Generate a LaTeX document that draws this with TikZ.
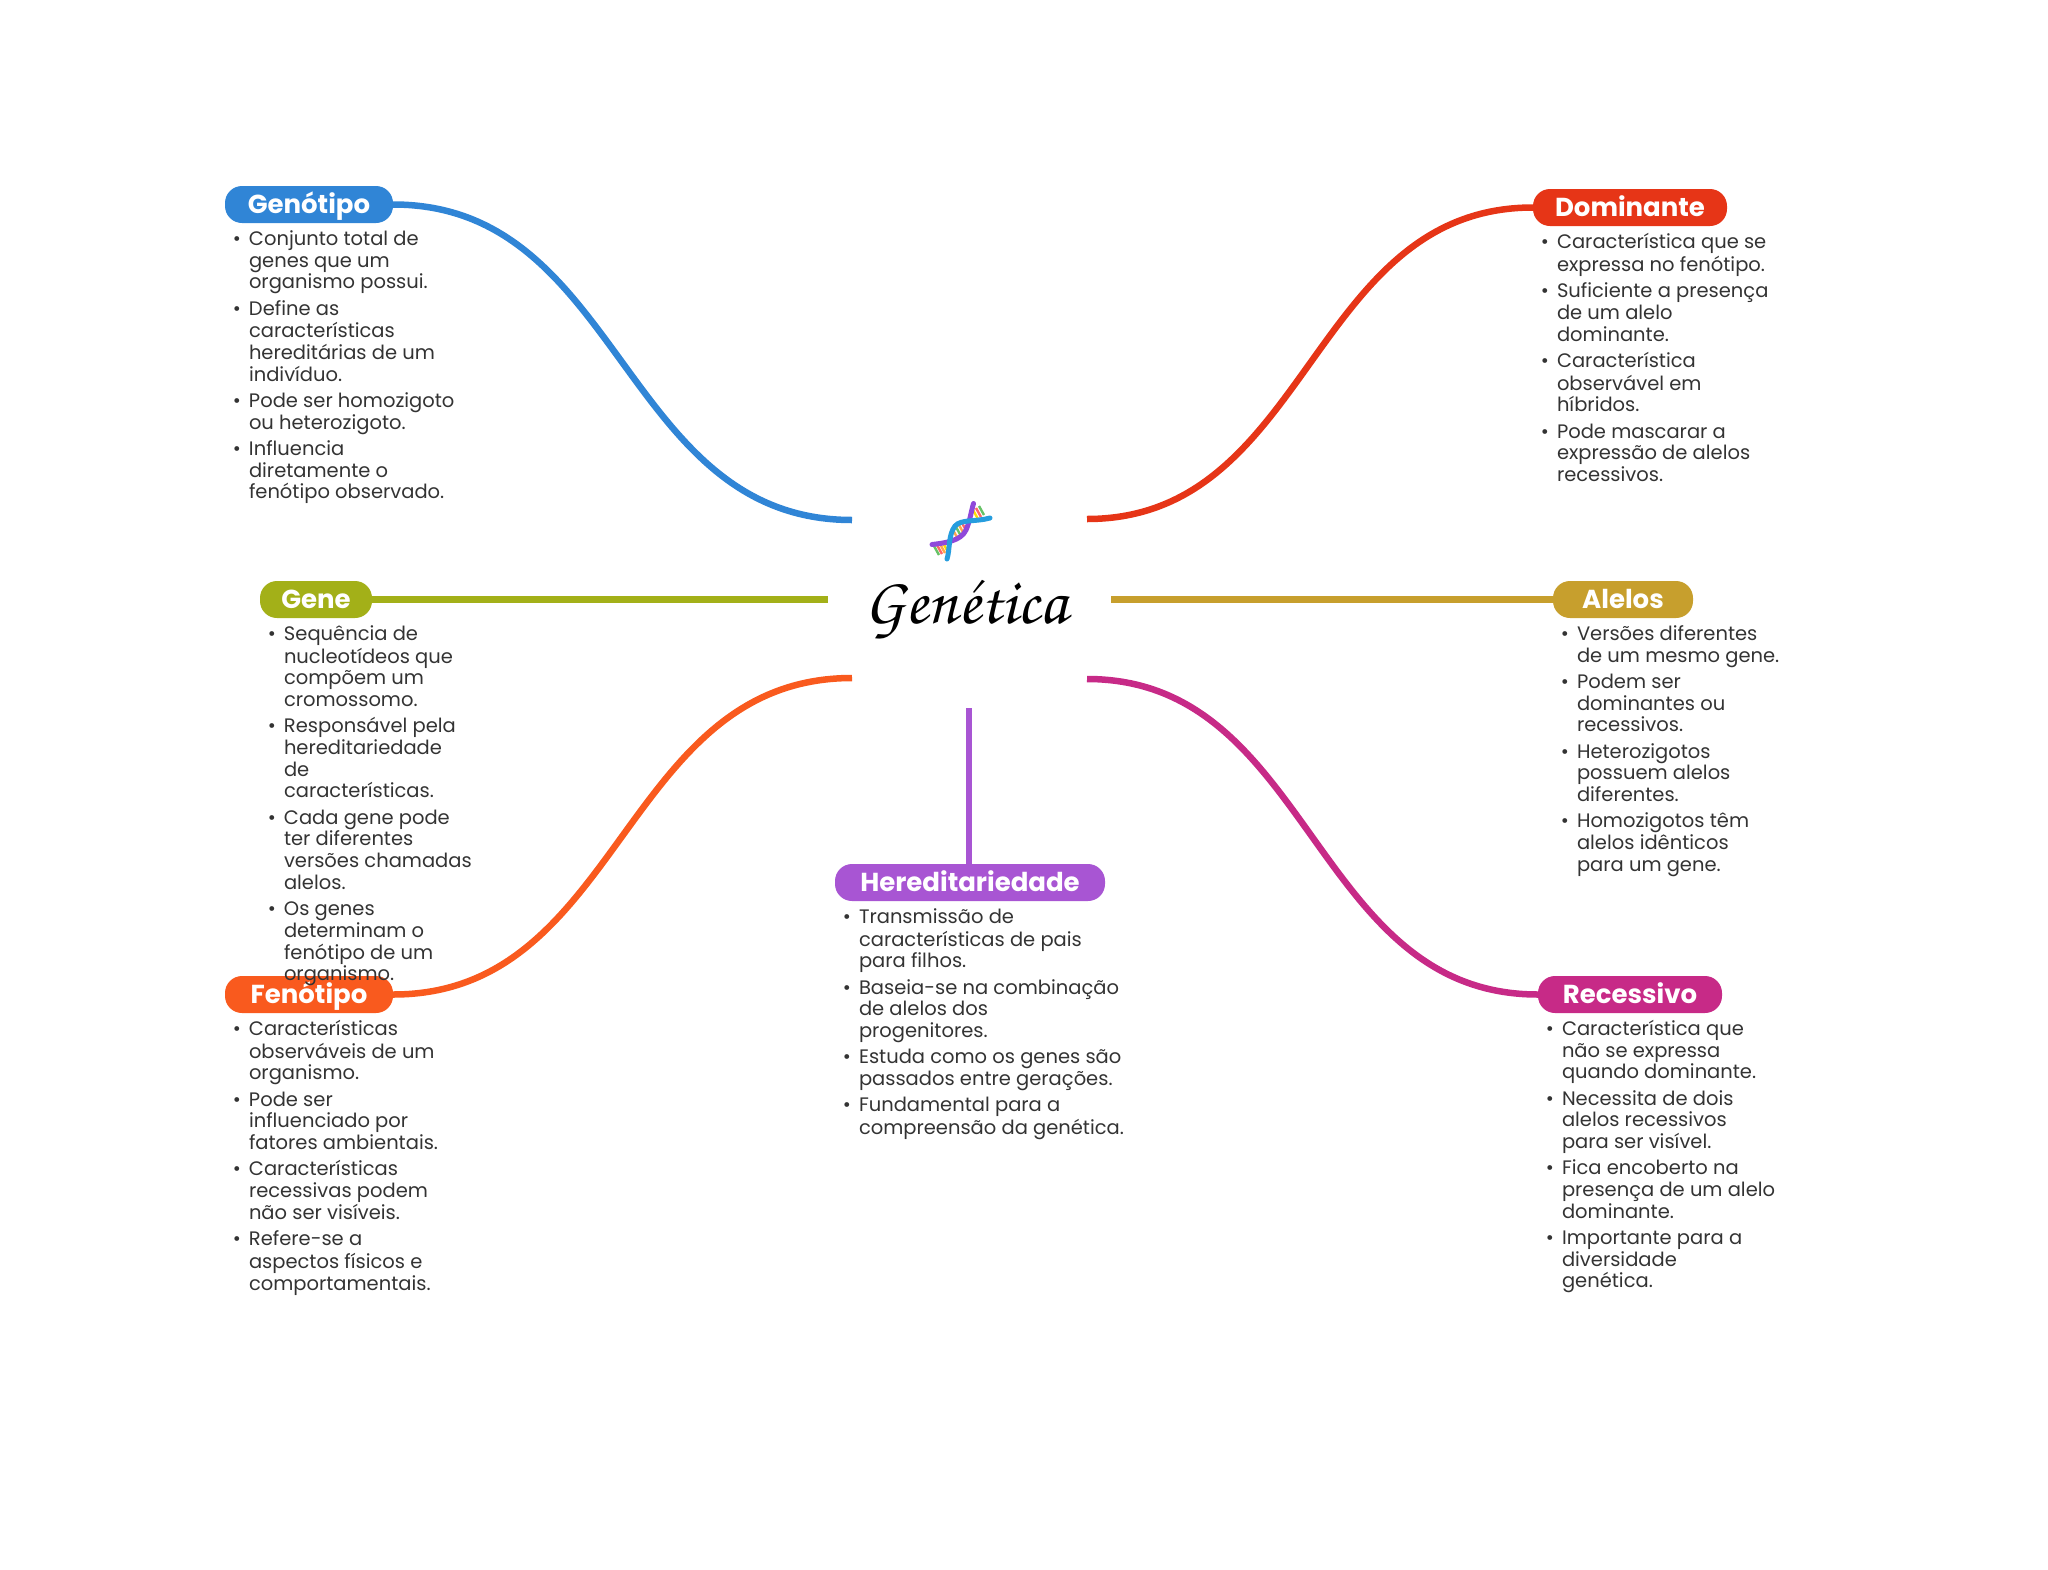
\documentclass[tikz,border=0pt]{standalone}
\usepackage{fontspec}
\setmainfont{Poppins}
\usetikzlibrary{positioning}
\definecolor{genotipoCol}{HTML}{3085D6}
\definecolor{dominanteCol}{HTML}{E63517}
\definecolor{geneCol}{HTML}{A3B018}
\definecolor{alelosCol}{HTML}{C79F2D}
\definecolor{fenotipoCol}{HTML}{F95A1E}
\definecolor{recessivoCol}{HTML}{C72A87}
\definecolor{hereditCol}{HTML}{A855D3}
\definecolor{bodyCol}{HTML}{333333}
\tikzset{pill/.style={rounded corners=17pt,minimum height=37pt,inner sep=0pt,text=white,
                      text height=21pt,text depth=4pt,
                      font=\fontsize{26}{26}\selectfont\bfseries}}
\tikzset{bodytext/.style={inner sep=0pt,align=left,text=bodyCol,
                          font=\fontsize{19.5}{21.7}\selectfont}}
\tikzset{link/.style={draw,line width=6.5pt}}
\newcommand{\bul}{\strut\llap{\textbullet\hspace{8pt}}}
\newcommand{\gap}{\\[4.6pt]}
\begin{document}
\begin{tikzpicture}[x=1pt,y=-1pt]
      \useasboundingbox (0,0) rectangle (2048,1569);

      % centre
      \node [inner sep=0pt,anchor=base,font=\fontsize{66}{66}\usefont{T1}{pzc}{mb}{it}] (genetica) at (966,623) {Genética};
      \coordinate (genotipoEnd) at (852,520);
      \coordinate (dominanteEnd) at (1087,519);
      \coordinate (geneEnd) at (828,599.5);
      \coordinate (alelosEnd) at (1111,599.5);
      \coordinate (fenotipoEnd) at (852,678);
      \coordinate (recessivoEnd) at (1087,679);
      \coordinate (hereditEnd) at (969,708);

      % dna icon
      \foreach \a/\b/\c in {
      934/546/green!60!black!60,937/545/red!60,940/544/orange!70,943/543/yellow!80!orange,
      953/530/orange!70,956/527/green!60!black!60,959/525/orange!70,962/523/red!60,
      973/510/yellow!80!orange,976/508/red!60,979/506/green!60!black!60}
      {
      \draw [line width=2.4pt,color=\c] (\a,\b) -- ++(5,9);
      }
      \draw [line width=5pt,line cap=round,color=hereditCol!85!blue]
      (932,544.5) .. controls (945,543) and (961,541) .. (966,530) .. controls (970,521) and (971,512) .. (973.5,503.5);
      \draw [line width=5pt,line cap=round,color=genotipoCol!80!cyan]
      (947,559) .. controls (950,550) and (948,535) .. (955,526) .. controls (961,519) and (976,522) .. (990,518);

      % main topics
      \foreach \n/\x/\y/\w/\t in {
      genotipo/309/204.5/168/Genótipo,
      dominante/1630/207.5/194/Dominante,
      gene/316/599.5/112/Gene,
      alelos/1623/599.5/140/Alelos,
      fenotipo/309/994.5/168/Fenótipo,
      recessivo/1630/994.5/184/Recessivo,
      heredit/970/882.5/270/Hereditariedade}
      {
      \node [pill,fill=\n Col,minimum width=\w pt] (\n) at (\x,\y) {\t};
      }

      % connectors
      \path [link,color=genotipoCol] (genotipo.east) .. controls (622,204.5) and (622,520) .. (genotipoEnd);
      \path [link,color=dominanteCol] (dominante.west) .. controls (1310,207.5) and (1310,519) .. (dominanteEnd);
      \path [link,color=geneCol] (gene.east) -- (geneEnd);
      \path [link,color=alelosCol] (alelos.west) -- (alelosEnd);
      \path [link,color=fenotipoCol] (fenotipo.east) .. controls (622,994.5) and (622,678) .. (fenotipoEnd);
      \path [link,color=recessivoCol] (recessivo.west) .. controls (1312,994.5) and (1312,679) .. (recessivoEnd);
      \path [link,color=hereditCol] (heredit.north -| hereditEnd) -- (hereditEnd);

      % texts
      \node [bodytext,below right=6.8pt and 24pt of genotipo.south west] (genotipoText) {
      \bul Conjunto total de\\genes que um\\organismo possui.\gap
      \bul Define as\\características\\hereditárias de um\\indivíduo.\gap
      \bul Pode ser homozigoto\\ou heterozigoto.\gap
      \bul Influencia\\diretamente o\\fenótipo observado.};

      \node [bodytext,below right=6.8pt and 24pt of dominante.south west] (dominanteText) {
      \bul Característica que se\\expressa no fenótipo.\gap
      \bul Suficiente a presença\\de um alelo\\dominante.\gap
      \bul Característica\\observável em\\híbridos.\gap
      \bul Pode mascarar a\\expressão de alelos\\recessivos.};

      \node [bodytext,below right=6.8pt and 24pt of gene.south west] (geneText) {
      \bul Sequência de\\nucleotídeos que\\compõem um\\cromossomo.\gap
      \bul Responsável pela\\hereditariedade\\de\\características.\gap
      \bul Cada gene pode\\ter diferentes\\versões chamadas\\alelos.\gap
      \bul Os genes\\determinam o\\fenótipo de um\\organismo.};

      \node [bodytext,below right=6.8pt and 24pt of alelos.south west] (alelosText) {
      \bul Versões diferentes\\de um mesmo gene.\gap
      \bul Podem ser\\dominantes ou\\recessivos.\gap
      \bul Heterozigotos\\possuem alelos\\diferentes.\gap
      \bul Homozigotos têm\\alelos idênticos\\para um gene.};

      \node [bodytext,below right=6.8pt and 24pt of fenotipo.south west] (fenotipoText) {
      \bul Características\\observáveis de um\\organismo.\gap
      \bul Pode ser\\influenciado por\\fatores ambientais.\gap
      \bul Características\\recessivas podem\\não ser visíveis.\gap
      \bul Refere-se a\\aspectos físicos e\\comportamentais.};

      \node [bodytext,below right=6.8pt and 24pt of recessivo.south west] (recessivoText) {
      \bul Característica que\\não se expressa\\quando dominante.\gap
      \bul Necessita de dois\\alelos recessivos\\para ser visível.\gap
      \bul Fica encoberto na\\presença de um alelo\\dominante.\gap
      \bul Importante para a\\diversidade\\genética.};

      \node [bodytext,below right=6.8pt and 24pt of heredit.south west] (hereditText) {
      \bul Transmissão de\\características de pais\\para filhos.\gap
      \bul Baseia-se na combinação\\de alelos dos\\progenitores.\gap
      \bul Estuda como os genes são\\passados entre gerações.\gap
      \bul Fundamental para a\\compreensão da genética.};

    \end{tikzpicture}
\end{document}
